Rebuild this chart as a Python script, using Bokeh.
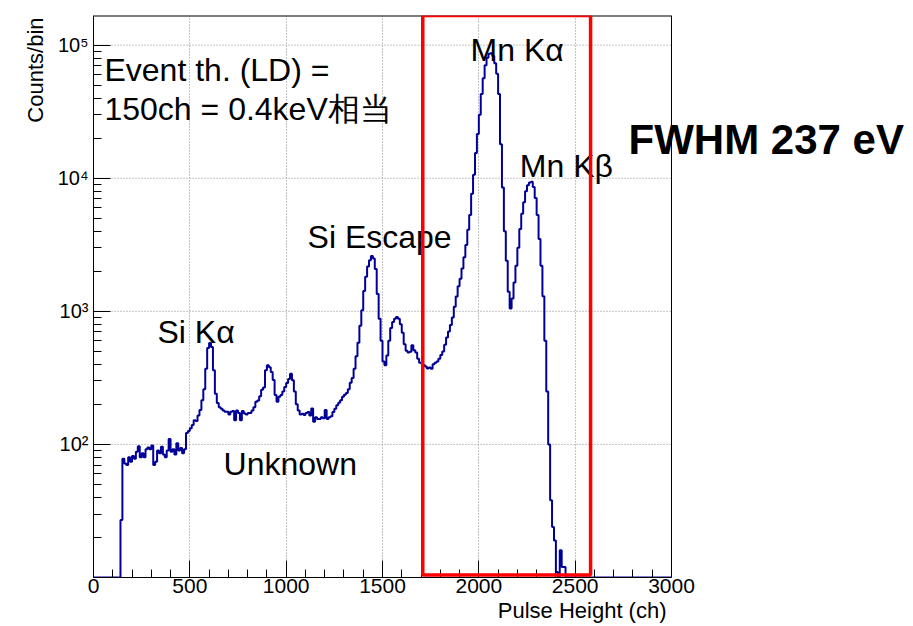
import math
from bokeh.plotting import figure
from bokeh.models import FixedTicker, CustomJSTickFormatter, Label, BoxAnnotation, Title
from bokeh.embed import file_html
from bokeh.resources import INLINE

# ---------------- data ----------------
bin_width = 10
bin_low = list(range(0, 3000, bin_width))          # lower edges of the 10-ch bins
counts = [
    0, 0, 0, 0, 0, 0, 0, 0, 0, 0,                                   # 0-90
    0, 0, 0, 0, 27, 78, 72, 70, 80, 74,                             # 100-190
    82, 78, 88, 97, 80, 86, 80, 92, 95, 92,                         # 200-290
    98, 70, 74, 90, 86, 96, 84, 80, 90, 110,                        # 300-390
    88, 92, 84, 102, 90, 94, 86, 92, 122, 126,                      # 400-490
    132, 140, 152, 150, 165, 181, 215, 260, 370, 530,               # 500-590
    579, 540, 360, 240, 205, 190, 185, 180, 176, 176,               # 600-690
    168, 176, 178, 152, 180, 172, 152, 178, 171, 168,               # 700-790
    172, 172, 180, 190, 209, 214, 230, 258, 268, 361,               # 800-890
    394, 380, 350, 305, 235, 209, 228, 235, 250, 270,               # 900-990
    289, 310, 340, 304, 250, 200, 180, 168, 170, 166,               # 1000-1090
    172, 175, 165, 186, 148, 160, 155, 155, 160, 157,               # 1100-1190
    181, 155, 160, 163, 175, 185, 197, 206, 215, 228,               # 1200-1290
    236, 243, 260, 290, 315, 370, 460, 580, 780, 1018,              # 1300-1390
    1420, 1820, 2170, 2420, 2600, 2490, 2080, 1350, 880, 600,       # 1400-1490
    420, 394, 465, 600, 750, 830, 880, 905, 880, 800,               # 1500-1590
    690, 565, 505, 490, 496, 557, 511, 490, 440, 410,               # 1600-1690
    405, 395, 385, 372, 378, 370, 400, 410, 420, 440,               # 1700-1790
    470, 500, 560, 635, 705, 790, 900, 1080, 1290, 1540,            # 1800-1890
    1760, 2100, 2550, 3150, 4100, 5300, 7650, 10600, 15500, 21500,  # 1900-1990
    30000, 43000, 56500, 70500, 80500, 86000, 87000, 83000, 73000, 61000,  # 2000-2090
    43000, 18000, 8500, 4000, 2400, 1400, 1050, 1250, 1650, 2200,   # 2100-2190
    3000, 4150, 5400, 6600, 8000, 8850, 9280, 9400, 8600, 7100,     # 2200-2290
    5300, 3500, 2200, 1300, 600, 250, 100, 38, 24, 19,              # 2300-2390
    11, 0, 16, 12, 12, 0, 0, 0, 0, 0,                               # 2400-2490
    0, 0, 0, 0, 0, 0, 0, 0, 0, 0,                                   # 2500-2590
    0, 0, 0, 0, 0, 0, 0, 0, 0, 0,                                   # 2600-2690
    0, 0, 0, 0, 0, 0, 0, 0, 0, 0,                                   # 2700-2790
    0, 0, 0, 0, 0, 0, 0, 0, 0, 0,                                   # 2800-2890
    0, 0, 0, 0, 0, 0, 0, 0, 0, 0,                                   # 2900-2990
]
assert len(counts) == len(bin_low)

x_major = [0, 500, 1000, 1500, 2000, 2500, 3000]
x_minor = [v for v in range(100, 3000, 100) if v % 500]
y_major = [1e2, 1e3, 1e4, 1e5]
y_minor = [m * 10 ** d for d in range(1, 5) for m in range(2, 10)]

box_left, box_right = 1709, 2580        # red selection box (channels)

x_min, x_max = 0, 3000                  # histogram axis extent
y_min, y_max = 10, 1.67e5

hist_color = "#000099"
font = "Liberation Sans"

# ---------------- geometry ----------------
W, H = 913, 626
frame_left, frame_top, frame_bottom = 93, 15, 49
axis_px = 578                                   # pixel length of 0..3000
view_x_end = x_max * (W - frame_left) / axis_px  # room on the right for the FWHM note
axis_right_px = frame_left + axis_px

p = figure(width=W, height=H, x_range=(x_min, view_x_end), y_range=(y_min, y_max),
           y_axis_type="log", output_backend="svg", toolbar_location=None,
           min_border_left=frame_left, min_border_right=0,
           min_border_top=frame_top, min_border_bottom=frame_bottom,
           background_fill_color="white", border_fill_color="white")

p.outline_line_color = None

p.xaxis.ticker = FixedTicker(ticks=x_major, minor_ticks=x_minor)
p.xaxis.bounds = (x_min, x_max)
p.yaxis.ticker = FixedTicker(ticks=y_major, minor_ticks=y_minor)
p.yaxis.formatter = CustomJSTickFormatter(code="""
const sup = {"1": "\u00b9", "2": "\u00b2", "3": "\u00b3", "4": "\u2074", "5": "\u2075", "6": "\u2076"};
const e = Math.round(Math.log10(tick));
return "10" + sup[String(e)];
""")

p.xgrid.ticker = FixedTicker(ticks=x_major)
p.xgrid.grid_line_color = "#8a8a8a"
p.xgrid.grid_line_dash = "1 2"
p.xgrid.grid_line_width = 1
p.ygrid.visible = False

for ax in (p.xaxis, p.yaxis):
    ax.axis_line_color = "black"
    ax.major_tick_line_color = "black"
    ax.minor_tick_line_color = "black"
    ax.major_tick_in = 17
    ax.major_tick_out = 0
    ax.minor_tick_in = 8
    ax.minor_tick_out = 0
    ax.major_label_text_font = font
    ax.major_label_text_color = "black"

p.xaxis.major_label_text_font_size = "21px"
p.xaxis.major_label_standoff = 1

p.yaxis.major_label_text_font_size = "20px"
p.yaxis.major_label_standoff = 5

# y-axis title, top-aligned, outside the tick labels
p.add_layout(Title(text="Counts/bin", align="right", offset=2,
                   text_font=font, text_font_size="22px", text_font_style="normal",
                   text_color="black", standoff=13), "left")

# x-axis title, right-aligned with the end (3000 ch) of the axis
p.add_layout(Title(text="Pulse Height (ch)", align="right", offset=W - axis_right_px + 5,
                   text_font=font, text_font_size="22px", text_font_style="normal",
                   text_color="black", standoff=0), "below")

# horizontal grid lines, only across the histogram's axis extent
p.segment(x0=[x_min] * len(y_major), y0=y_major, x1=[x_max] * len(y_major), y1=y_major,
          line_color="#8a8a8a", line_dash="1 2", line_width=1)

# frame: top and right edges
p.segment(x0=[x_min], y0=[y_max], x1=[x_max], y1=[y_max], line_color="black", line_width=2)
p.segment(x0=[x_max], y0=[y_min], x1=[x_max], y1=[y_max], line_color="black", line_width=1)

# ---------------- histogram ----------------
edges = bin_low + [x_max]
heights = [max(c, y_min) for c in counts]
heights = heights + [heights[-1]]
p.step(edges, heights, mode="after", line_color=hist_color, line_width=2)

# ---------------- texts ----------------
def add_text(txt, x, y, size, style="normal"):
    p.add_layout(Label(x=x, y=y, x_units="data", y_units="data", text=txt,
                       text_font=font, text_font_size=size, text_font_style=style,
                       text_color="black", text_align="left", text_baseline="alphabetic"))

add_text("Event th. (LD) =", 57, 64600, "32px")
add_text("150ch = 0.4keV相当", 57, 33300, "32px")
add_text("Si Kα", 332, 700, "32px")
add_text("Unknown", 675, 71.1, "32px")
add_text("Si Escape", 1111, 3620, "32px")
add_text("Mn Kα", 1957, 92340, "32px")
add_text("Mn Kβ", 2213, 12350, "32px")
add_text("FWHM 237 eV", 2777, 19590, "42px", style="bold")

# ---------------- red box ----------------
p.add_layout(BoxAnnotation(left=box_left, right=box_right, bottom=10.45, top=y_max,
                           fill_color=None, fill_alpha=0, line_color="#ff0000",
                           line_width=3.5, line_alpha=1))

open("out.html", "w").write(file_html(p, INLINE))
